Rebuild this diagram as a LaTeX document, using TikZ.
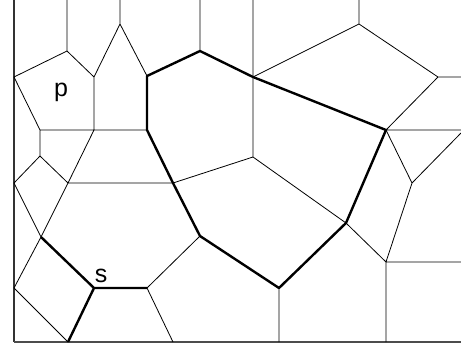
\documentclass[tikz,border=0pt]{standalone}
\usepackage{fontspec}
\setmainfont{Liberation Sans}
\begin{document}
\begin{tikzpicture}[x=1pt,y=-1pt,
  edge/.style={line width=0.8pt,black},
  path/.style={line width=2.4pt,black,line join=round},
  frame/.style={line width=1.2pt,black!70},
  lbl/.style={font=\fontsize{25}{25}\selectfont,inner sep=0pt,anchor=base}]
\useasboundingbox (0,0) rectangle (461,349);
% vertices
\coordinate (A) at (67,51);
\coordinate (B) at (120,24);
\coordinate (C) at (14,77);
\coordinate (D) at (94,77);
\coordinate (E) at (147,76);
\coordinate (F) at (147,130);
\coordinate (G) at (40,130);
\coordinate (D2) at (94,130);
\coordinate (H) at (40,156);
\coordinate (I) at (68,183);
\coordinate (Lf) at (14,183);
\coordinate (J) at (173,183);
\coordinate (K) at (41,237);
\coordinate (L) at (14,288);
\coordinate (S) at (94,288);
\coordinate (M) at (68,342);
\coordinate (N) at (147,288);
\coordinate (O) at (200,236);
\coordinate (Pb) at (279,288);
\coordinate (P) at (200,51);
\coordinate (Q) at (253,77);
\coordinate (R) at (253,157);
\coordinate (T) at (359,24);
\coordinate (U) at (438,77);
\coordinate (V) at (386,130);
\coordinate (X) at (412,183);
\coordinate (Y) at (386,262);
\coordinate (Z) at (346,223);
% border points
\coordinate (tA) at (67,0);
\coordinate (tB) at (120,0);
\coordinate (tP) at (200,0);
\coordinate (tQ) at (253,0);
\coordinate (tT) at (359,0);
\coordinate (rU) at (461,77);
\coordinate (rV) at (461,130);
\coordinate (rX) at (461,133);
\coordinate (rY) at (461,262);
\coordinate (bN) at (173,342);
\coordinate (bPb) at (279,342);
\coordinate (bY) at (386,342);
\coordinate (fTL) at (14,0);
\coordinate (fBL) at (14,342);
\coordinate (fBR) at (461,342);
% frame
\draw[line width=1.2pt,black!80] (fTL) -- (fBL);
\draw[frame] (fBL) -- (fBR);
% thin edges
\draw[edge] (A) -- (tA) (B) -- (tB) (A) -- (C) (A) -- (D) (B) -- (D) (B) -- (E)
  (C) -- (G) (G) -- (F) (D) -- (D2) (D2) -- (I) (G) -- (H) (H) -- (Lf) (H) -- (I)
  (I) -- (J) (Lf) -- (K) (K) -- (I) (K) -- (L) (L) -- (M) (N) -- (O) (N) -- (bN)
  (Pb) -- (bPb) (P) -- (tP) (Q) -- (tQ) (Q) -- (R) (R) -- (J) (R) -- (Z)
  (T) -- (tT) (T) -- (Q) (T) -- (U) (U) -- (rU) (U) -- (V) (V) -- (rV)
  (V) -- (X) (X) -- (rX) (X) -- (Y) (Y) -- (rY) (Y) -- (bY) (Z) -- (Y);
% thick path
\draw[path] (E) -- (P) -- (Q) -- (V) -- (Z) -- (Pb) -- (O) -- (J) -- (F) -- cycle;
\draw[path] (K) -- (S) -- (N);
\draw[path] (S) -- (M);
% labels
\node[lbl] (p) at (61,96) {p};
\node[lbl] (s) at (101,282) {s};
\end{tikzpicture}
\end{document}
